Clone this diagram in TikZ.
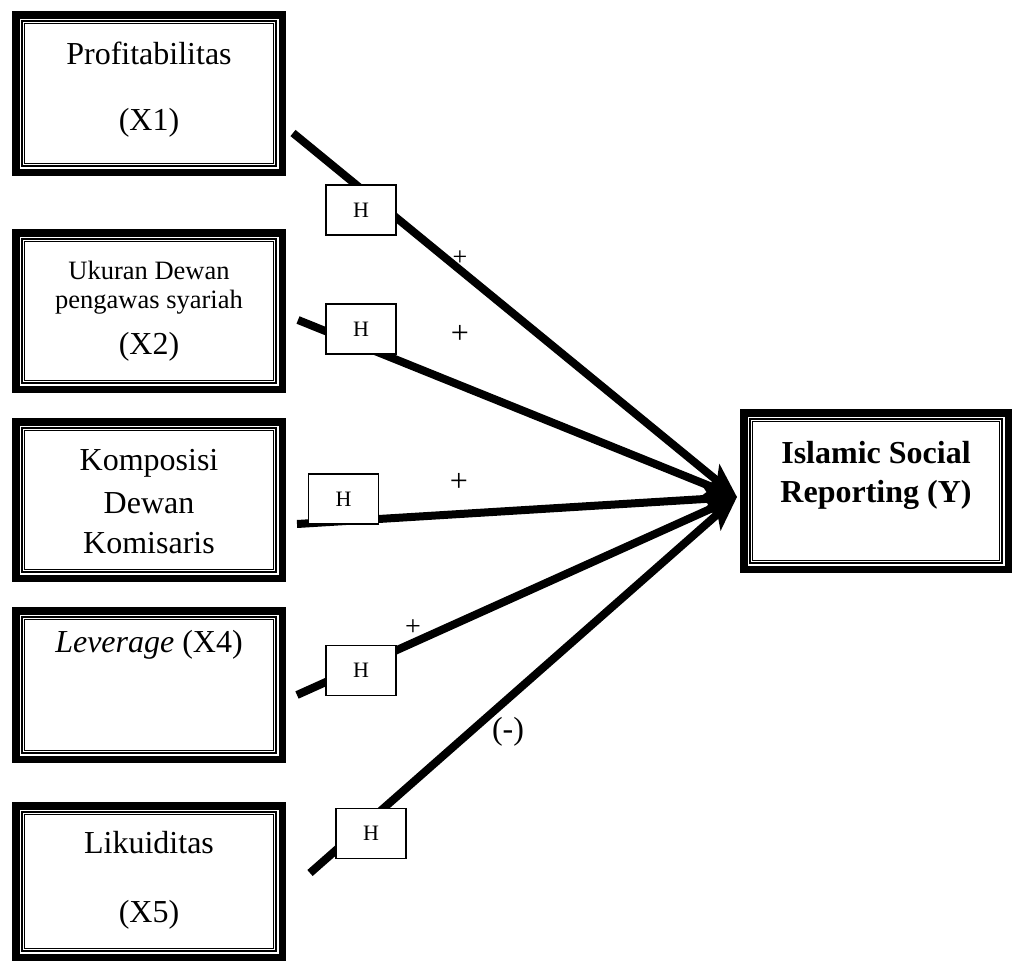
\documentclass[tikz,border=0pt]{standalone}
\usepackage{fontspec}
\setmainfont{Liberation Serif}
\usetikzlibrary{arrows.meta}
\begin{document}
\begin{tikzpicture}[x=1pt,y=-1pt,
  conn/.style={line width=8pt, -{Stealth[length=34pt,width=28pt,inset=8pt]}},
  hbox/.style={draw, fill=white, line width=1.2pt, minimum width=70pt, minimum height=50pt, inner sep=0pt, font=\fontsize{22}{22}\selectfont},
  lbl/.style={font=\fontsize{32}{32}\selectfont, inner sep=0pt},
  txt/.style={font=\fontsize{32}{38}\selectfont, inner sep=0pt, align=center},
  stxt/.style={font=\fontsize{26.5}{30}\selectfont, inner sep=0pt, align=center},
  framebox/.style={draw, line width=7.5pt, inner sep=0pt, path picture={
     \draw[line width=1.7pt] ([shift={(6.05pt,-6.05pt)}]path picture bounding box.north west) rectangle ([shift={(-6.05pt,6.05pt)}]path picture bounding box.south east);
     \draw[line width=1pt] ([shift={(8.75pt,-8.75pt)}]path picture bounding box.north west) rectangle ([shift={(-8.75pt,8.75pt)}]path picture bounding box.south east);
  }},
]
\useasboundingbox (0,0) rectangle (1012,961);

% frames
\node[framebox, minimum width=266.5pt, minimum height=157.5pt] (b1) at (149,93.5) {};
\node[framebox, minimum width=266.5pt, minimum height=156.5pt] (b2) at (149,311) {};
\node[framebox, minimum width=266.5pt, minimum height=156.5pt] (b3) at (149,500) {};
\node[framebox, minimum width=266.5pt, minimum height=148.5pt] (b4) at (149,685) {};
\node[framebox, minimum width=266.5pt, minimum height=151.5pt] (b5) at (149,881.5) {};
\node[framebox, minimum width=264.5pt, minimum height=156.5pt] (y) at (876,491) {};

% texts
\node[txt] (t1a) at (149,53) {Profitabilitas};
\node[txt] (t1b) at (149,123) {(X1)};
\node[stxt] (t2a) at (149,270) {Ukuran Dewan};
\node[stxt] (t2b) at (149,302) {pengawas syariah};
\node[txt] (t2c) at (149,347) {(X2)};
\node[txt] (t3a) at (149,463) {Komposisi};
\node[txt] (t3b) at (149,503) {Dewan};
\node[txt] (t3c) at (149,543) {Komisaris};
\node[txt] (t4) at (149,645) {\textit{Leverage} (X4)};
\node[txt] (t5a) at (149,843) {Likuiditas};
\node[txt] (t5b) at (149,915) {(X5)};
\node[txt, font=\bfseries\fontsize{32}{38}\selectfont] (ya) at (876,453) {Islamic Social};
\node[txt, font=\bfseries\fontsize{32}{38}\selectfont] (yb) at (876,495) {Reporting (Y)};

% connectors
\coordinate (tip) at (737,497);
\coordinate (s1) at (293,133);
\coordinate (s2) at (298,320);
\coordinate (s3) at (297,524);
\coordinate (s4) at (297,695);
\coordinate (s5) at (310,873);
\draw[conn] (s1) -- (tip);
\draw[conn] (s2) -- (tip);
\draw[conn] (s3) -- (tip);
\draw[conn] (s4) -- (tip);
\draw[conn] (s5) -- (tip);

% H boxes
\node[hbox] (h1) at (361,210) {H};
\node[hbox] (h2) at (361,329) {H};
\node[hbox] (h3) at (343.5,499) {H};
\node[hbox] (h4) at (361,670.5) {H};
\node[hbox] (h5) at (371,833.5) {H};

% signs
\node[lbl, font=\fontsize{26}{26}\selectfont] (p1) at (460,258) {+};
\node[lbl] (p2) at (460,334) {+};
\node[lbl] (p3) at (459,482) {+};
\node[lbl, font=\fontsize{28}{28}\selectfont] (p4) at (413,628) {+};
\node[lbl, font=\fontsize{32}{32}\selectfont] (m5) at (508,732) {(-)};
\end{tikzpicture}
\end{document}
